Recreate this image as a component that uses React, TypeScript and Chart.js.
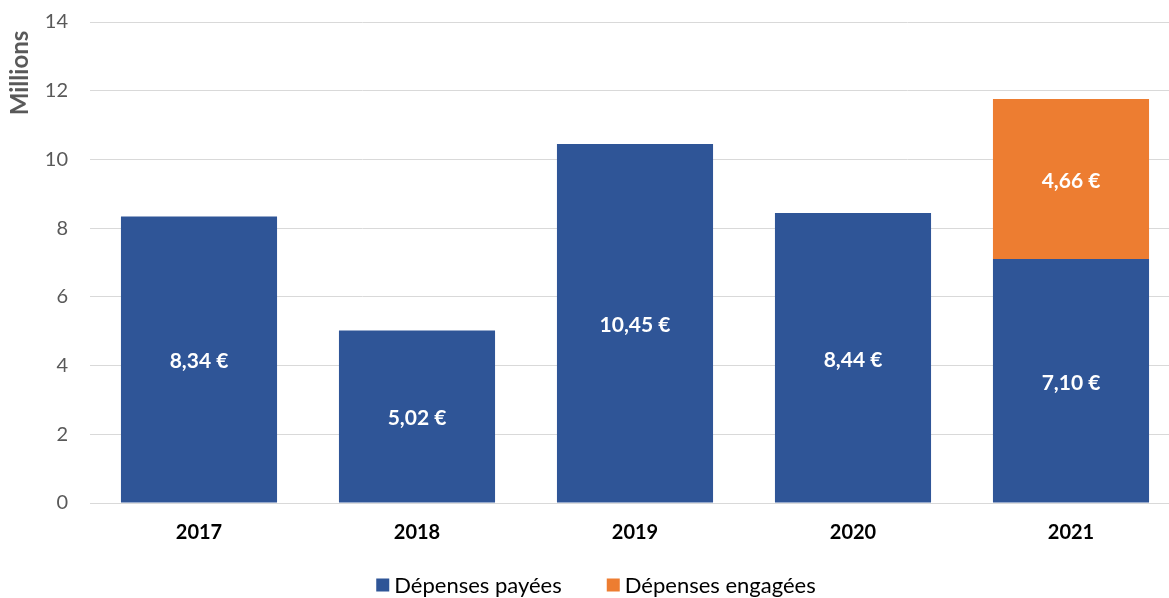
import React, { useEffect, useRef } from "react";
import { Chart, registerables } from "chart.js";

Chart.register(...registerables);

const categories = ["2017", "2018", "2019", "2020", "2021"];
const paid = [8.34, 5.02, 10.45, 8.44, 7.1];
const engaged = [null, null, null, null, 4.66];
const paidLabel = "Dépenses payées";
const engagedLabel = "Dépenses engagées";
const yTitle = "Millions";

const FONT = "Lato, 'Open Sans', sans-serif";
const BLUE = "#2F5597";
const ORANGE = "#ED7D31";

const fmt = (v: number) => v.toFixed(2).replace(".", ",") + " €";

const labelPlugin = {
  id: "barLabels",
  afterDatasetsDraw(chart: any) {
    const ctx = chart.ctx;
    ctx.save();
    ctx.font = `bold 21px ${FONT}`;
    ctx.fillStyle = "#ffffff";
    ctx.textAlign = "center";
    ctx.textBaseline = "middle";
    chart.data.datasets.forEach((ds: any, di: number) => {
      const meta = chart.getDatasetMeta(di);
      meta.data.forEach((el: any, i: number) => {
        const v = ds.data[i];
        if (v == null) return;
        const { x, y, base } = el.getProps(["x", "y", "base"], true);
        ctx.fillText(fmt(v), x, (y + base) / 2 + 2);
      });
    });
    ctx.restore();
  },
};

const titlePlugin = {
  id: "yTitle",
  afterDraw(chart: any) {
    const ctx = chart.ctx;
    ctx.save();
    ctx.font = `bold 24px ${FONT}`;
    ctx.fillStyle = "#595959";
    ctx.textAlign = "center";
    ctx.textBaseline = "middle";
    ctx.translate(20, chart.chartArea.top + 51);
    ctx.rotate(-Math.PI / 2);
    ctx.fillText(yTitle, 0, 0);
    ctx.restore();
  },
};

const legendPlugin = {
  id: "customLegend",
  afterDraw(chart: any) {
    const ctx = chart.ctx;
    ctx.save();
    ctx.font = `22px ${FONT}`;
    ctx.textBaseline = "middle";
    ctx.textAlign = "left";
    const items = chart.data.datasets.map((ds: any) => ({
      text: ds.label,
      color: ds.backgroundColor,
    }));
    const box = 13;
    const gapText = 5;
    const gapItem = 45;
    const widths = items.map((it: any) => ctx.measureText(it.text).width);
    const total =
      widths.reduce((a: number, b: number) => a + b, 0) +
      items.length * (box + gapText) +
      gapItem * (items.length - 1);
    let x = 596 - total / 2;
    const cy = 585;
    items.forEach((it: any, i: number) => {
      ctx.fillStyle = it.color;
      ctx.fillRect(x, cy - box / 2, box, box);
      x += box + gapText;
      ctx.fillStyle = "#000000";
      ctx.fillText(it.text, x, cy + 1);
      x += widths[i] + gapItem;
    });
    ctx.restore();
  },
};

export default function App() {
  const ref = useRef<HTMLCanvasElement>(null);
  useEffect(() => {
    document.body.style.margin = "0";
    document.body.style.overflow = "hidden";
    const chart = new Chart(ref.current!, {
      type: "bar",
      data: {
        labels: categories,
        datasets: [
          {
            label: paidLabel,
            data: paid,
            backgroundColor: BLUE,
            borderWidth: 0,
          },
          {
            label: engagedLabel,
            data: engaged as any,
            backgroundColor: ORANGE,
            borderWidth: 0,
          },
        ],
      },
      options: {
        animation: false,
        responsive: true,
        maintainAspectRatio: false,
        datasets: { bar: { categoryPercentage: 1, barPercentage: 0.716 } },
        layout: { padding: { top: 22, right: 2, left: 0, bottom: 35 } },
        scales: {
          x: {
            stacked: true,
            grid: { display: false, drawTicks: false },
            border: { display: true, color: "#d9d9d9" },
            afterFit: (s: any) => {
              s.paddingLeft = 0;
              s.paddingRight = 0;
            },
            ticks: {
              color: "#000000",
              font: { family: FONT, size: 20, weight: "bold" },
              padding: 18,
            },
          },
          y: {
            stacked: true,
            min: 0,
            max: 14,
            grid: { color: "#d9d9d9", drawTicks: false },
            border: { display: false },
            afterFit: (s: any) => {
              s.width = 90;
              s.paddingTop = 0;
              s.paddingBottom = 0;
            },
            ticks: {
              stepSize: 2,
              color: "#595959",
              font: { family: FONT, size: 20 },
              padding: 22,
            },
          },
        },
        plugins: {
          legend: { display: false },
          tooltip: { enabled: false },
        },
      },
      plugins: [labelPlugin, titlePlugin, legendPlugin],
    });
    return () => chart.destroy();
  }, []);
  return (
    <div style={{ width: 1169, height: 598, overflow: "hidden" }}>
      <div style={{ position: "relative", width: 1182, height: 598 }}>
        <canvas ref={ref} />
      </div>
    </div>
  );
}
